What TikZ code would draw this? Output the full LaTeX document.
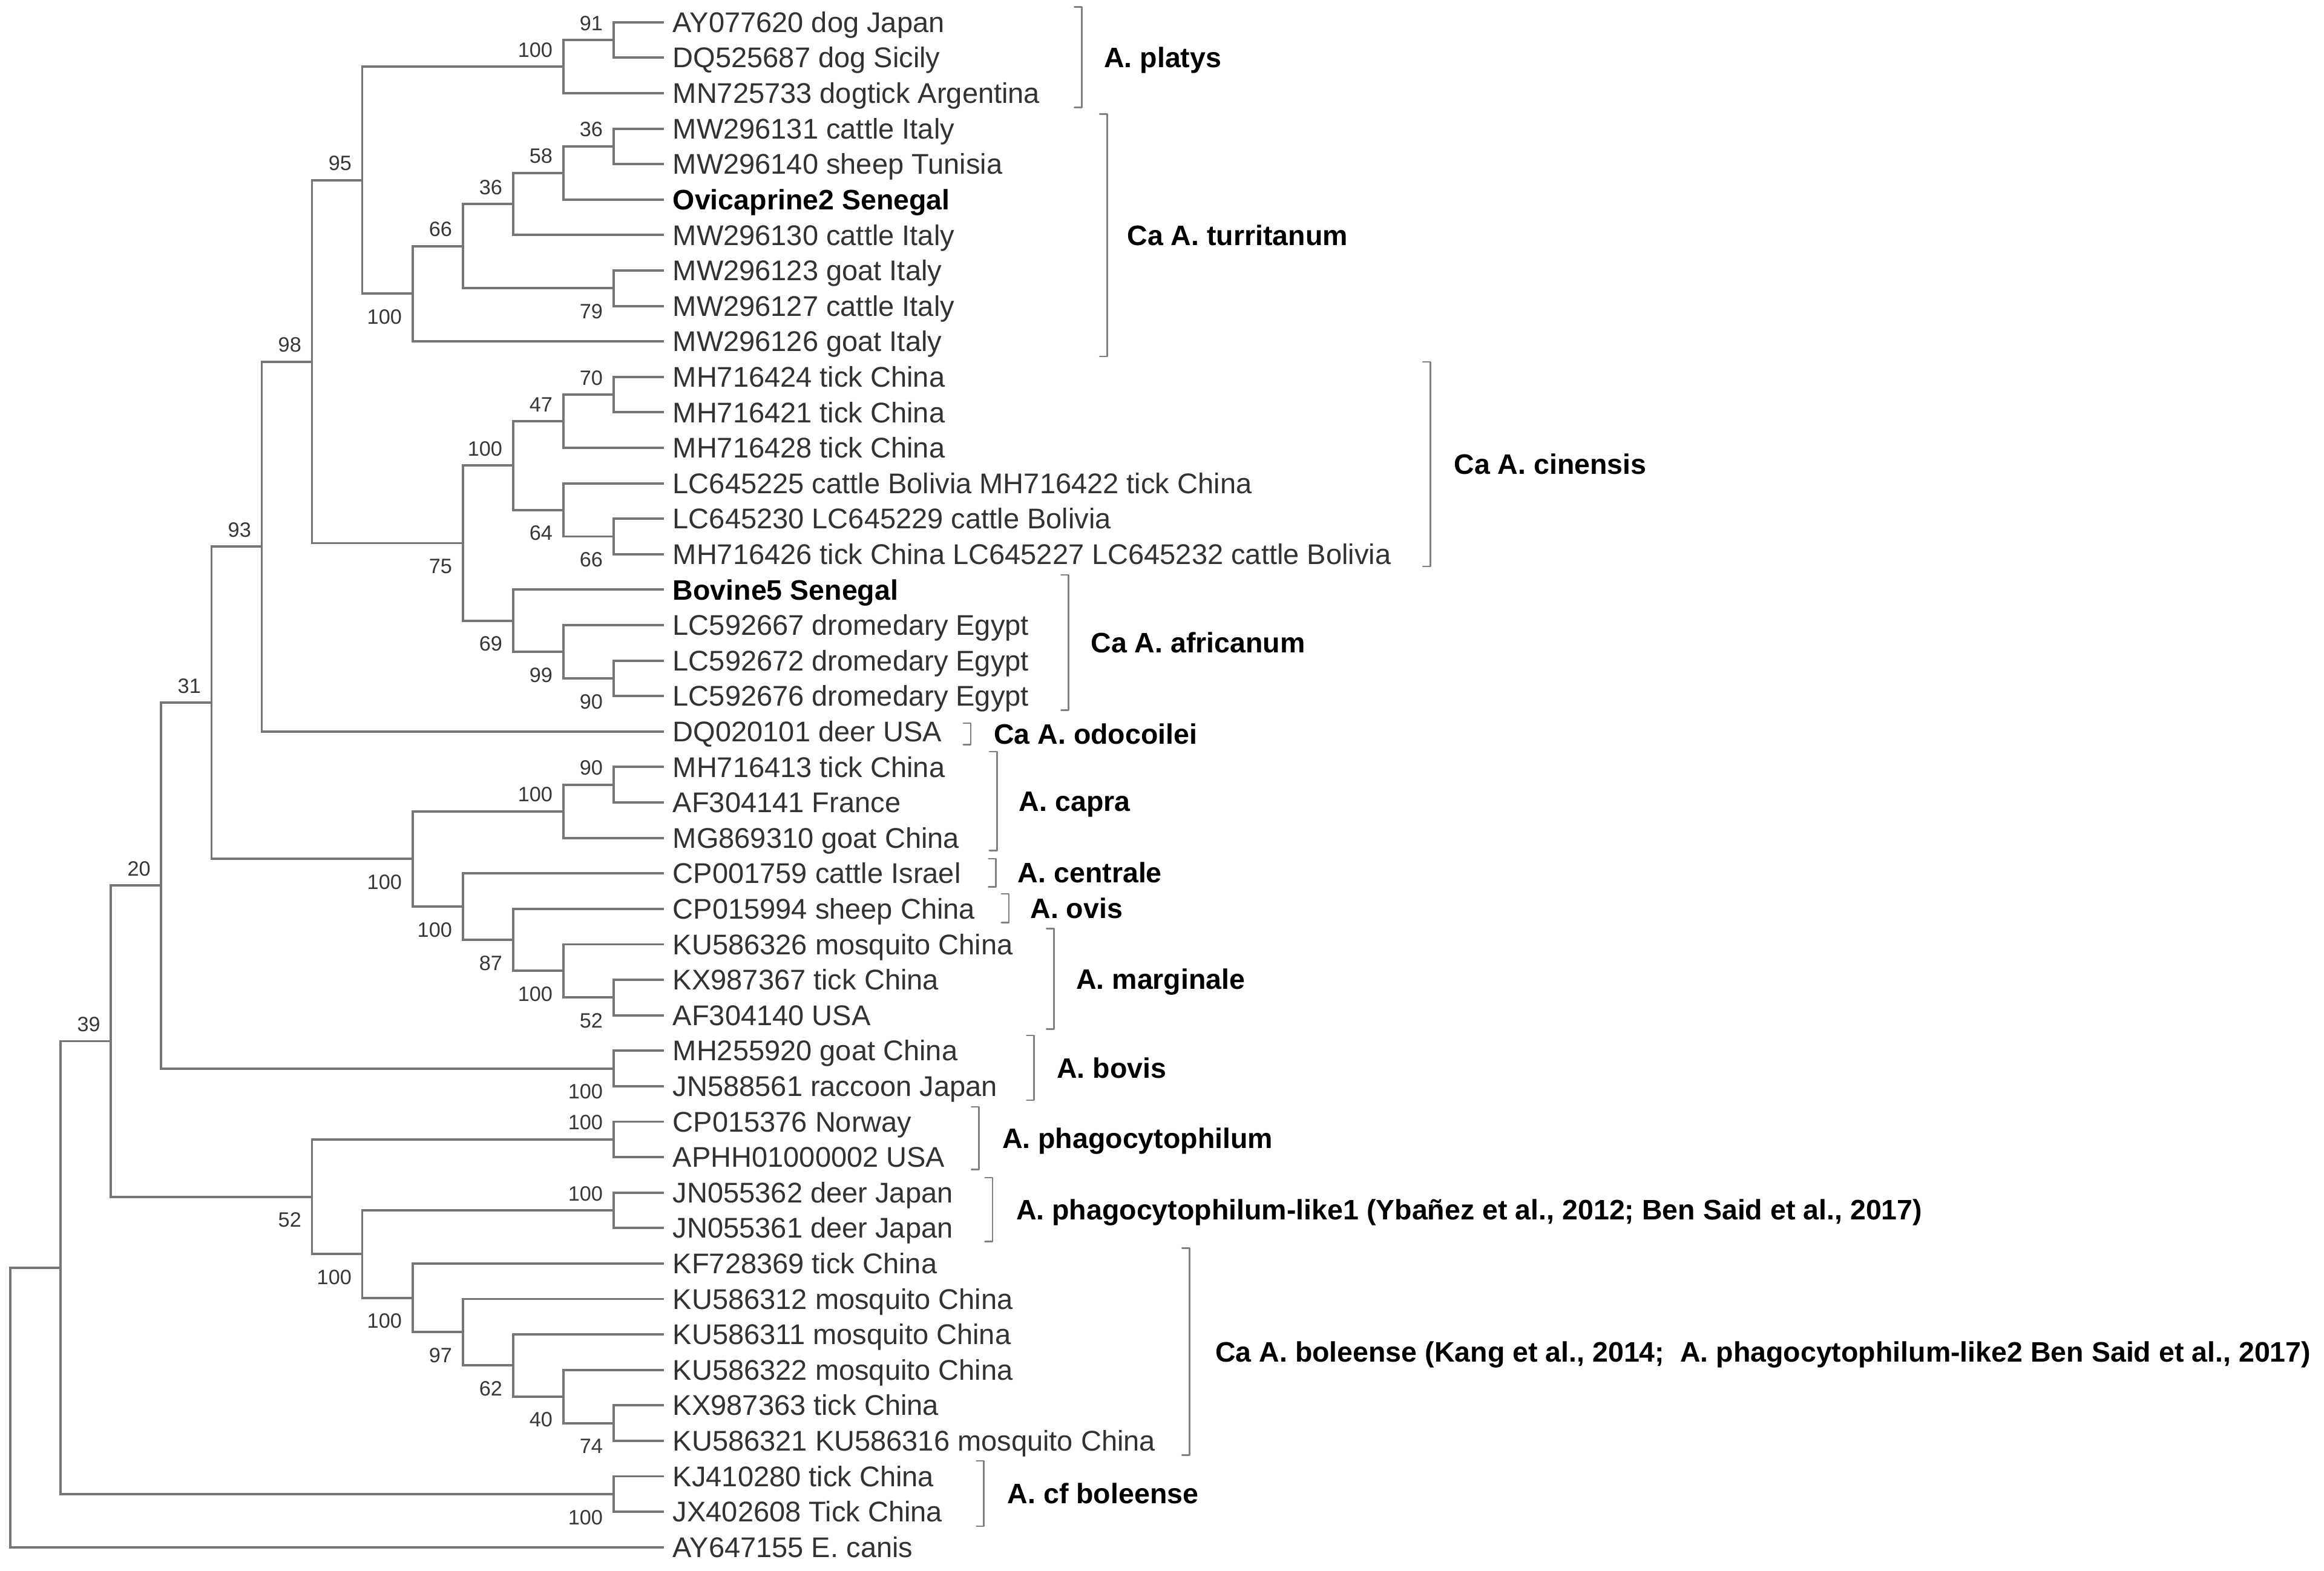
\documentclass[tikz,border=0pt]{standalone}
\usepackage{fontspec}
\setmainfont{Liberation Sans}
\usetikzlibrary{calc}
\definecolor{branchc}{RGB}{118,118,118}
\definecolor{leafc}{RGB}{50,50,50}
\definecolor{bsc}{RGB}{55,55,55}
\definecolor{brkc}{RGB}{128,128,128}
\tikzset{
  br/.style={draw=branchc, line width=1.6pt},
  brk/.style={draw=brkc, line width=1.1pt, line cap=round, line join=round},
  leaf/.style={anchor=base west, inner sep=0pt, text=leafc, font=\fontsize{19.2}{22}\selectfont},
  leafb/.style={leaf, text=black, font=\fontsize{19}{22}\selectfont\bfseries},
  grp/.style={anchor=base west, inner sep=0pt, text=black, font=\fontsize{19}{22}\selectfont\bfseries},
  bs/.style={anchor=base east, inner sep=0pt, text=bsc, font=\fontsize{14}{16}\selectfont},
}
\newcommand\mkclade[4]{%
  \coordinate (#1m) at ($(#3)!0.5!(#4)$);
  \coordinate (#1) at (L#2 |- #1m);
  \draw[br] (#1) |- (#3);
  \draw[br] (#1) |- (#4);
}
\newcommand\bootup[2]{\node[bs] (bs#1) at ($(#1)+(-7,-6.5)$) {#2};}
\newcommand\bootdn[2]{\node[bs] (bs#1) at ($(#1)+(-7,20.5)$) {#2};}
\newcommand\leaftxt[2]{\node[leaf] (t#1) at ($(l#1)+(6,6.8)$) {#2};}
\newcommand\leafbold[2]{\node[leafb] (t#1) at ($(l#1)+(6,6.8)$) {#2};}
\newcommand\grplabel[6]{%
  \coordinate (#6top) at (#1,#2);
  \coordinate (#6bot) at (#1,#3);
  \draw[brk] ($(#6top)+(-5,0)$) -- (#6top) -- (#6bot) -- ($(#6bot)+(-5,0)$);
  \node[grp] (#6) at (#4,{(#2+#3)/2+6.8}) {#5};
}
\begin{document}
\begin{tikzpicture}[x=1pt,y=-1pt]
\useasboundingbox (0,0) rectangle (1568,1060);
\fill[white] (0,0) rectangle (1568,1060);
\foreach \k in {1,...,13} \coordinate (L\k) at ({447.8-33.9*\k},0);
\foreach \i in {1,...,44} \coordinate (l\i) at (447.8,{15+(\i-1)*23.93});
% tree
\mkclade{a1}{1}{l1}{l2}
\mkclade{a2}{2}{a1}{l3}
\mkclade{b1}{1}{l4}{l5}
\mkclade{b2}{2}{b1}{l6}
\mkclade{b3}{3}{b2}{l7}
\mkclade{b4}{1}{l8}{l9}
\mkclade{b5}{4}{b3}{b4}
\mkclade{b6}{5}{b5}{l10}
\mkclade{c1}{6}{a2}{b6}
\mkclade{d1}{1}{l11}{l12}
\mkclade{d2}{2}{d1}{l13}
\mkclade{d3}{1}{l15}{l16}
\mkclade{d4}{2}{l14}{d3}
\mkclade{d5}{3}{d2}{d4}
\mkclade{e1}{1}{l19}{l20}
\mkclade{e2}{2}{l18}{e1}
\mkclade{e3}{3}{l17}{e2}
\mkclade{e4}{4}{d5}{e3}
\mkclade{f1}{7}{c1}{e4}
\mkclade{f2}{8}{f1}{l21}
\mkclade{g1}{1}{l22}{l23}
\mkclade{g2}{2}{g1}{l24}
\mkclade{g3}{1}{l28}{l29}
\mkclade{g4}{2}{l27}{g3}
\mkclade{g5}{3}{l26}{g4}
\mkclade{g6}{4}{l25}{g5}
\mkclade{g7}{5}{g2}{g6}
\mkclade{h1}{9}{f2}{g7}
\mkclade{i1}{1}{l30}{l31}
\mkclade{h2}{10}{h1}{i1}
\mkclade{j1}{1}{l32}{l33}
\mkclade{k1}{1}{l34}{l35}
\mkclade{m1}{1}{l40}{l41}
\mkclade{m2}{2}{l39}{m1}
\mkclade{m3}{3}{l38}{m2}
\mkclade{m4}{4}{l37}{m3}
\mkclade{m5}{5}{l36}{m4}
\mkclade{m6}{6}{k1}{m5}
\mkclade{j2}{7}{j1}{m6}
\mkclade{h3}{11}{h2}{j2}
\mkclade{n1}{1}{l42}{l43}
\mkclade{h4}{12}{h3}{n1}
\mkclade{root}{13}{h4}{l44}
% bootstrap values
\bootup{a1}{91} \bootup{a2}{100} \bootup{b1}{36} \bootup{b2}{58} \bootup{b3}{36}
\bootdn{b4}{79} \bootup{b5}{66} \bootdn{b6}{100} \bootup{c1}{95}
\bootup{d1}{70} \bootup{d2}{47} \bootdn{d3}{66} \bootdn{d4}{64} \bootup{d5}{100}
\bootdn{e1}{90} \bootdn{e2}{99} \bootdn{e3}{69} \bootdn{e4}{75}
\bootup{f1}{98} \bootup{f2}{93}
\bootup{g1}{90} \bootup{g2}{100} \bootdn{g3}{52} \bootdn{g4}{100} \bootdn{g5}{87}
\bootdn{g6}{100} \bootdn{g7}{100}
\bootup{h1}{31} \bootdn{i1}{100} \bootup{h2}{20}
\bootup{j1}{100} \bootup{k1}{100} \bootdn{m1}{74} \bootdn{m2}{40} \bootdn{m3}{62}
\bootdn{m4}{97} \bootdn{m5}{100} \bootdn{m6}{100} \bootdn{j2}{52} \bootup{h3}{39}
\bootdn{n1}{100}
% leaf labels
\leaftxt{1}{AY077620 dog Japan}
\leaftxt{2}{DQ525687 dog Sicily}
\leaftxt{3}{MN725733 dogtick Argentina}
\leaftxt{4}{MW296131 cattle Italy}
\leaftxt{5}{MW296140 sheep Tunisia}
\leafbold{6}{Ovicaprine2 Senegal}
\leaftxt{7}{MW296130 cattle Italy}
\leaftxt{8}{MW296123 goat Italy}
\leaftxt{9}{MW296127 cattle Italy}
\leaftxt{10}{MW296126 goat Italy}
\leaftxt{11}{MH716424 tick China}
\leaftxt{12}{MH716421 tick China}
\leaftxt{13}{MH716428 tick China}
\leaftxt{14}{LC645225 cattle Bolivia MH716422 tick China}
\leaftxt{15}{LC645230 LC645229 cattle Bolivia}
\leaftxt{16}{MH716426 tick China LC645227 LC645232 cattle Bolivia}
\leafbold{17}{Bovine5 Senegal}
\leaftxt{18}{LC592667 dromedary Egypt}
\leaftxt{19}{LC592672 dromedary Egypt}
\leaftxt{20}{LC592676 dromedary Egypt}
\leaftxt{21}{DQ020101 deer USA}
\leaftxt{22}{MH716413 tick China}
\leaftxt{23}{AF304141 France}
\leaftxt{24}{MG869310 goat China}
\leaftxt{25}{CP001759 cattle Israel}
\leaftxt{26}{CP015994 sheep China}
\leaftxt{27}{KU586326 mosquito China}
\leaftxt{28}{KX987367 tick China}
\leaftxt{29}{AF304140 USA}
\leaftxt{30}{MH255920 goat China}
\leaftxt{31}{JN588561 raccoon Japan}
\leaftxt{32}{CP015376 Norway}
\leaftxt{33}{APHH01000002 USA}
\leaftxt{34}{JN055362 deer Japan}
\leaftxt{35}{JN055361 deer Japan}
\leaftxt{36}{KF728369 tick China}
\leaftxt{37}{KU586312 mosquito China}
\leaftxt{38}{KU586311 mosquito China}
\leaftxt{39}{KU586322 mosquito China}
\leaftxt{40}{KX987363 tick China}
\leaftxt{41}{KU586321 KU586316 mosquito China}
\leaftxt{42}{KJ410280 tick China}
\leaftxt{43}{JX402608 Tick China}
\leaftxt{44}{AY647155 E. canis}
% group brackets and labels
\grplabel{730}{4.8}{72.6}{744.7}{A. platys}{gplatys}
\grplabel{747}{77}{240.5}{760.3}{Ca A. turritanum}{gturr}
\grplabel{965}{244.2}{382.2}{980.8}{Ca A. cinensis}{gcin}
\grplabel{721}{387.9}{479.3}{735.8}{Ca A. africanum}{gafr}
\grplabel{655}{487.9}{502.5}{670.4}{Ca A. odocoilei}{godo}
\grplabel{672.6}{507.2}{573.9}{687.4}{A. capra}{gcapra}
\grplabel{672}{579.4}{598.3}{686.6}{A. centrale}{gcent}
\grplabel{680.7}{603.1}{622.4}{695}{A. ovis}{govis}
\grplabel{711.1}{626.7}{694.3}{725.9}{A. marginale}{gmarg}
\grplabel{697.7}{698.6}{742.3}{712.9}{A. bovis}{gbovis}
\grplabel{660.5}{746.8}{789.2}{676}{A. phagocytophilum}{gphago}
\grplabel{669.6}{794.6}{837.7}{685.4}{A. phagocytophilum-like1 (Ybañez et al., 2012; Ben Said et al., 2017)}{glike}
\grplabel{802.6}{842.3}{981.9}{819.8}{Ca A. boleense (Kang et al., 2014;\ \ A. phagocytophilum-like2 Ben Said et al., 2017)}{gbol}
\grplabel{663.8}{985.7}{1029.8}{679.6}{A. cf boleense}{gcf}
\end{tikzpicture}
\end{document}
